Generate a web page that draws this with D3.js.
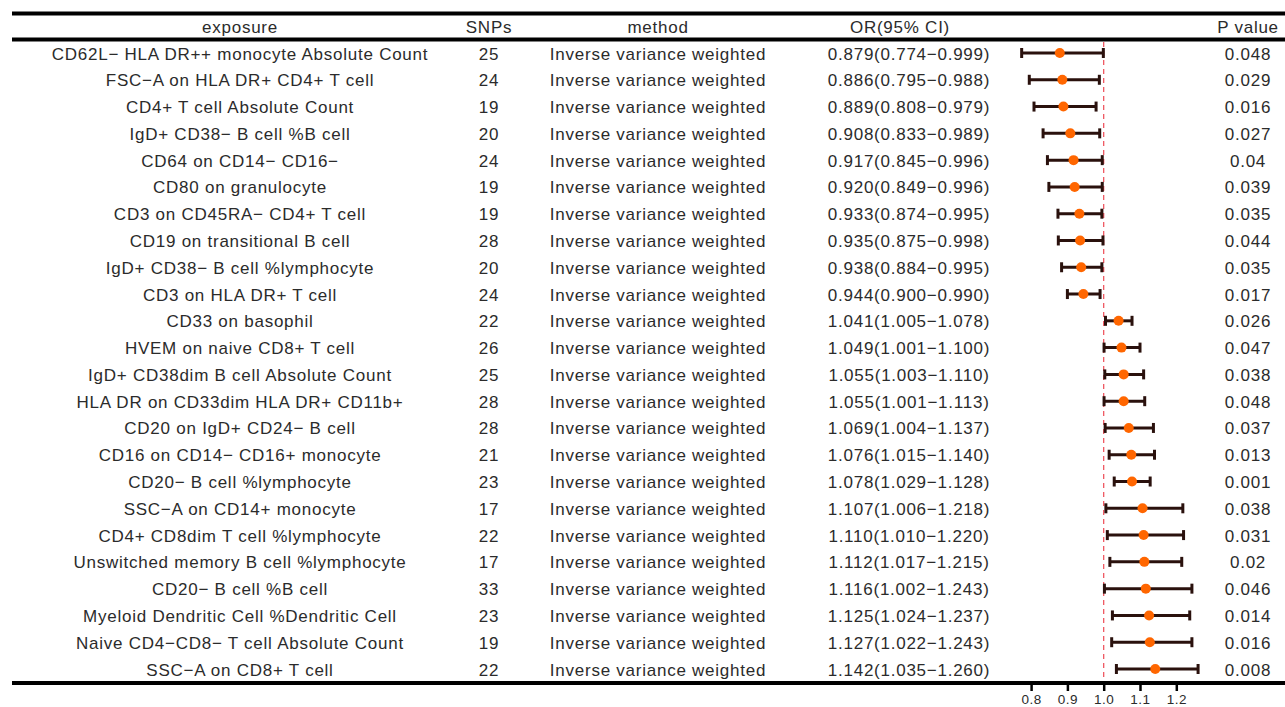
<!DOCTYPE html>
<html><head><meta charset="utf-8">
<script src="https://cdn.jsdelivr.net/npm/d3@7"></script>
<style>html,body{margin:0;padding:0;background:#fff;}svg{display:block;}</style>
</head><body>
<svg id="chart" width="1285" height="707"></svg>
<script>
const exposures = [
 "CD62L\u2212 HLA DR++ monocyte Absolute Count",
 "FSC\u2212A on HLA DR+ CD4+ T cell",
 "CD4+ T cell Absolute Count",
 "IgD+ CD38\u2212 B cell %B cell",
 "CD64 on CD14\u2212 CD16\u2212",
 "CD80 on granulocyte",
 "CD3 on CD45RA\u2212 CD4+ T cell",
 "CD19 on transitional B cell",
 "IgD+ CD38\u2212 B cell %lymphocyte",
 "CD3 on HLA DR+ T cell",
 "CD33 on basophil",
 "HVEM on naive CD8+ T cell",
 "IgD+ CD38dim B cell Absolute Count",
 "HLA DR on CD33dim HLA DR+ CD11b+",
 "CD20 on IgD+ CD24\u2212 B cell",
 "CD16 on CD14\u2212 CD16+ monocyte",
 "CD20\u2212 B cell %lymphocyte",
 "SSC\u2212A on CD14+ monocyte",
 "CD4+ CD8dim T cell %lymphocyte",
 "Unswitched memory B cell %lymphocyte",
 "CD20\u2212 B cell %B cell",
 "Myeloid Dendritic Cell %Dendritic Cell",
 "Naive CD4\u2212CD8\u2212 T cell Absolute Count",
 "SSC\u2212A on CD8+ T cell"
];
const snps = [25,24,19,20,24,19,19,28,20,24,22,26,25,28,28,21,23,17,22,17,33,23,19,22];
const methods = Array(24).fill("Inverse variance weighted");
const orValues = [0.879,0.886,0.889,0.908,0.917,0.920,0.933,0.935,0.938,0.944,1.041,1.049,1.055,1.055,1.069,1.076,1.078,1.107,1.110,1.112,1.116,1.125,1.127,1.142];
const lowerCI = [0.774,0.795,0.808,0.833,0.845,0.849,0.874,0.875,0.884,0.900,1.005,1.001,1.003,1.001,1.004,1.015,1.029,1.006,1.010,1.017,1.002,1.024,1.022,1.035];
const upperCI = [0.999,0.988,0.979,0.989,0.996,0.996,0.995,0.998,0.995,0.990,1.078,1.100,1.110,1.113,1.137,1.140,1.128,1.218,1.220,1.215,1.243,1.237,1.243,1.260];
const pValues = ["0.048","0.029","0.016","0.027","0.04","0.039","0.035","0.044","0.035","0.017","0.026","0.047","0.038","0.048","0.037","0.013","0.001","0.038","0.031","0.02","0.046","0.014","0.016","0.008"];
const headers = ["exposure","SNPs","method","OR(95% CI)","P value"];
const xTicks = [0.8,0.9,1.0,1.1,1.2];

const svg = d3.select("#chart");
const font = "'Liberation Sans', Arial, sans-serif";
const textColor = "#2b2b2b";
const fs = "17px", ls = "0.75px";

const rows = exposures.map((e,i)=>({e, snp:snps[i], m:methods[i], or:orValues[i], lo:lowerCI[i], hi:upperCI[i], p:pValues[i]}));

const y = d3.scalePoint().domain(d3.range(rows.length)).range([53,669]);
const x = d3.scaleLinear().domain([0.8,1.2]).range([1031.1,1176.3]);

const colX = {exposure:240, snp:489, method:658, orText:909, orHeader:900, p:1248};
const f3 = d3.format(".3f");

// header text
const headerX = [colX.exposure, colX.snp, colX.method, colX.orHeader, colX.p];
svg.append("g").selectAll("text").data(headers).join("text")
  .attr("x",(d,i)=>headerX[i]).attr("y",27)
  .attr("text-anchor","middle").attr("dominant-baseline","central")
  .style("font-family",font).style("font-size",fs).style("letter-spacing",ls).style("fill",textColor)
  .text(d=>d);

// horizontal rules
[13.5, 39.5, 683].forEach(yy=>{
  svg.append("line").attr("x1",12).attr("x2",1285).attr("y1",yy).attr("y2",yy)
    .attr("stroke","#000").attr("stroke-width",3.8);
});

// table body
const body = svg.append("g");
const cols = [
  {x:colX.exposure, t:d=>d.e},
  {x:colX.snp, t:d=>d.snp},
  {x:colX.method, t:d=>d.m},
  {x:colX.orText, t:d=>`${f3(d.or)}(${f3(d.lo)}\u2212${f3(d.hi)})`},
  {x:colX.p, t:d=>d.p}
];
cols.forEach(c=>{
  body.append("g").selectAll("text").data(rows).join("text")
    .attr("x",c.x).attr("y",(d,i)=>y(i)+1)
    .attr("text-anchor","middle").attr("dominant-baseline","central")
    .style("font-family",font).style("font-size",fs).style("letter-spacing",ls).style("fill",textColor)
    .text(c.t);
});

// reference dashed line
svg.append("line").attr("x1",x(1)).attr("x2",x(1)).attr("y1",42).attr("y2",681)
  .attr("stroke","#ee4a55").attr("stroke-width",1.2).attr("stroke-dasharray","5,4");

// error bars
const eb = svg.append("g").selectAll("g").data(rows).join("g")
  .attr("transform",(d,i)=>`translate(0,${y(i)})`);
const barColor = "#2a110d";
eb.append("line").attr("x1",d=>x(d.lo)).attr("x2",d=>x(d.hi)).attr("y1",0).attr("y2",0)
  .attr("stroke",barColor).attr("stroke-width",3);
eb.append("line").attr("x1",d=>x(d.lo)).attr("x2",d=>x(d.lo)).attr("y1",-5).attr("y2",5)
  .attr("stroke",barColor).attr("stroke-width",3);
eb.append("line").attr("x1",d=>x(d.hi)).attr("x2",d=>x(d.hi)).attr("y1",-5).attr("y2",5)
  .attr("stroke",barColor).attr("stroke-width",3);
eb.append("circle").attr("cx",d=>x(d.or)).attr("cy",0).attr("r",5)
  .attr("fill","#ff6600");

// axis
const axis = d3.axisBottom(x).tickValues(xTicks).tickFormat(d3.format(".1f")).tickSize(7).tickPadding(3);
const ag = svg.append("g").attr("transform","translate(0,684)").call(axis);
ag.select(".domain").remove();
ag.selectAll(".tick line").attr("stroke","#000").attr("stroke-width",2.5);
ag.selectAll(".tick text").style("font-family",font).style("font-size","13.5px").style("letter-spacing","0.5px").style("fill",textColor);
</script>
</body></html>
